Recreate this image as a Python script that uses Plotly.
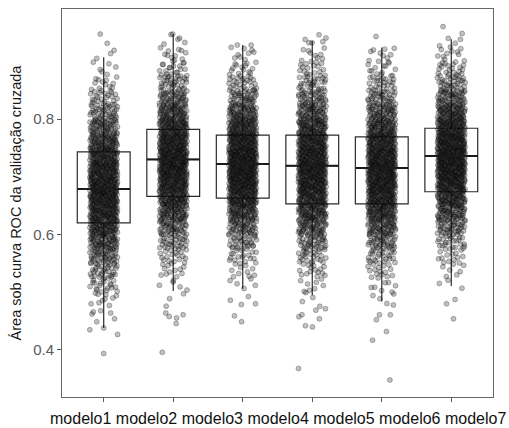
import plotly.graph_objects as go

# Cross-validated ROC AUC for each model
model_labels = ["modelo1", "modelo2", "modelo3", "modelo4", "modelo5", "modelo6", "modelo7"]
positions = [1, 2, 3, 4, 5, 6]

# Box summaries per model
q1 = [0.620, 0.666, 0.663, 0.653, 0.653, 0.674]
median = [0.679, 0.730, 0.722, 0.719, 0.715, 0.736]
q3 = [0.743, 0.782, 0.772, 0.772, 0.769, 0.784]
lower_whisker = [0.438, 0.502, 0.506, 0.495, 0.484, 0.511]
upper_whisker = [0.907, 0.947, 0.928, 0.935, 0.924, 0.938]

# Resample counts per AUC bin (edges 0.400 .. 0.950, step 0.025)
bin_start = 0.400
bin_width = 0.025
counts_m1 = [0, 0, 3, 10, 20, 32, 47, 65, 84, 99, 109, 110, 104, 90, 73, 55, 38, 24, 12, 6, 3, 0]
counts_m2 = [0, 0, 1, 3, 5, 11, 19, 32, 49, 69, 89, 105, 115, 115, 105, 89, 69, 49, 32, 19, 11, 4]
counts_m3 = [0, 0, 1, 2, 5, 10, 19, 32, 51, 73, 96, 114, 122, 120, 107, 87, 64, 43, 26, 14, 8, 0]
counts_m4 = [0, 0, 2, 4, 8, 15, 25, 39, 58, 77, 94, 108, 113, 109, 98, 81, 61, 43, 28, 17, 9, 4]
counts_m5 = [0, 0, 2, 4, 8, 15, 26, 42, 61, 82, 100, 112, 116, 110, 96, 77, 57, 39, 24, 14, 7, 1]
counts_m6 = [0, 0, 0, 1, 3, 7, 14, 26, 42, 63, 85, 105, 119, 122, 114, 97, 76, 53, 34, 20, 11, 4]

# Isolated extreme resamples
tails_m1 = [0.394, 0.427, 0.435, 0.438, 0.449, 0.464, 0.466, 0.931, 0.947]
tails_m2 = [0.396, 0.446, 0.458, 0.461, 0.464, 0.940, 0.947]
tails_m3 = [0.449, 0.480, 0.486, 0.922, 0.928, 0.928]
tails_m4 = [0.368, 0.440, 0.442, 0.454, 0.461, 0.469, 0.932, 0.934]
tails_m5 = [0.348, 0.417, 0.432, 0.461, 0.478, 0.917, 0.921]
tails_m6 = [0.454, 0.480, 0.938, 0.960]

all_counts = [counts_m1, counts_m2, counts_m3, counts_m4, counts_m5, counts_m6]
all_tails = [tails_m1, tails_m2, tails_m3, tails_m4, tails_m5, tails_m6]

JITTER = 0.2
BOX_WIDTH = 0.76


def halton(i, base):
    f, r = 1.0, 0.0
    while i > 0:
        f /= base
        r += f * (i % base)
        i //= base
    return r


def group_points(pos, counts, tails, seed):
    """Spread each bin's resamples over the bin and jitter them sideways."""
    xs, ys = [], []
    k = seed
    for b, n in enumerate(counts):
        lo = bin_start + b * bin_width
        for _ in range(n):
            k += 1
            ys.append(lo + halton(k, 3) * bin_width)
            xs.append(pos + (2 * halton(k, 2) - 1) * JITTER)
    for t in tails:
        k += 1
        ys.append(t)
        xs.append(pos + (2 * halton(k, 2) - 1) * JITTER)
    return xs, ys


px, py = [], []
for g, (pos, counts, tails) in enumerate(zip(positions, all_counts, all_tails)):
    xs, ys = group_points(pos, counts, tails, 37 + 211 * g)
    px += xs
    py += ys

fig = go.Figure()

fig.add_trace(go.Scatter(
    x=px, y=py, mode="markers",
    marker=dict(size=5, color="rgba(30,30,30,0.28)",
                line=dict(color="rgba(0,0,0,0.42)", width=0.6)),
    hoverinfo="skip", showlegend=False,
))

fig.add_trace(go.Box(
    x=positions, q1=q1, median=median, q3=q3,
    lowerfence=lower_whisker, upperfence=upper_whisker,
    width=BOX_WIDTH, whiskerwidth=0,
    fillcolor="rgba(0,0,0,0)",
    line=dict(color="#2b2b2b", width=1.2),
    boxpoints=False, showlegend=False, hoverinfo="skip",
))

# thicker median bars
mx, my = [], []
for pos, m in zip(positions, median):
    mx += [pos - BOX_WIDTH / 2, pos + BOX_WIDTH / 2, None]
    my += [m, m, None]
fig.add_trace(go.Scatter(
    x=mx, y=my, mode="lines",
    line=dict(color="#1a1a1a", width=2),
    hoverinfo="skip", showlegend=False,
))

fig.add_annotation(
    text=" ".join(model_labels),
    xref="paper", yref="paper", x=0.5, y=-0.055,
    xanchor="center", yanchor="middle", showarrow=False,
    font=dict(family="Liberation Sans, Arial, sans-serif", size=16, color="#111111"),
)

fig.update_layout(
    width=509, height=428,
    margin=dict(l=62, r=16, t=9, b=31),
    paper_bgcolor="white", plot_bgcolor="white",
    font=dict(family="Liberation Sans, Arial, sans-serif"),
    showlegend=False,
)
fig.update_xaxes(
    range=[0.4, 6.6], tickvals=positions, showticklabels=False,
    ticks="outside", ticklen=4, tickcolor="#555555",
    showline=True, linecolor="#666666", linewidth=1, mirror=True,
    showgrid=False, zeroline=False,
)
fig.update_yaxes(
    range=[0.3186, 0.9905], tickvals=[0.4, 0.6, 0.8], tickformat=".1f",
    ticks="outside", ticklen=4, tickcolor="#555555",
    tickfont=dict(size=15, color="#5a5a5a"),
    title=dict(text="Área sob curva ROC da validação cruzada",
               font=dict(size=14.5, color="#1a1a1a"), standoff=8),
    showline=True, linecolor="#666666", linewidth=1, mirror=True,
    showgrid=False, zeroline=False,
)

fig.write_html("out.html")
